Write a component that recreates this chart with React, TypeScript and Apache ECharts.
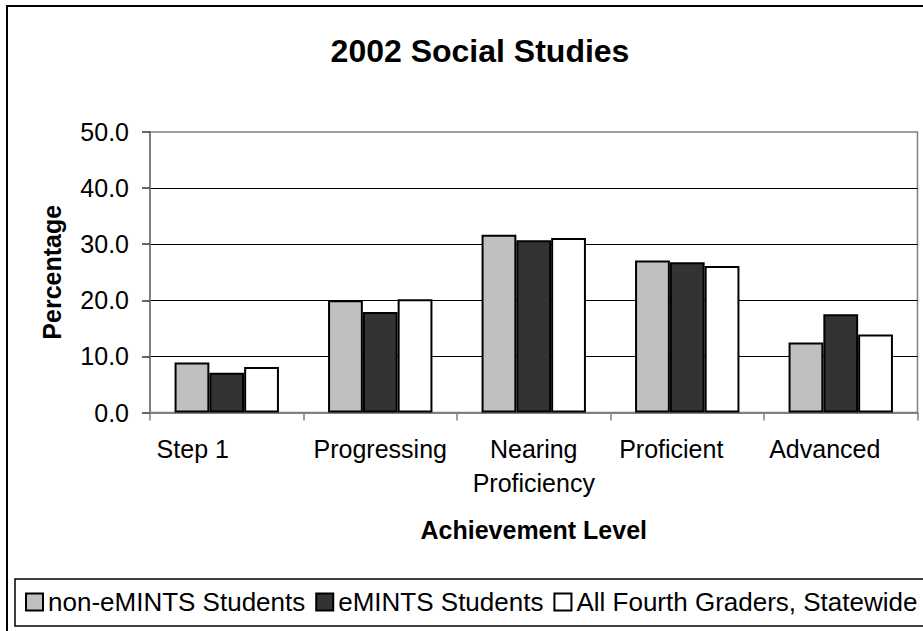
import React, { useEffect, useRef } from "react";
import * as echarts from "echarts";

const categories = ["Step 1", "Progressing", "Nearing\nProficiency", "Proficient", "Advanced"];
const nonEmints = [8.9, 20.0, 31.7, 27.1, 12.5];
const emints = [7.1, 17.9, 30.7, 26.8, 17.5];
const statewide = [8.1, 20.2, 31.1, 26.1, 13.9];
const seriesNames = ["non-eMINTS Students", "eMINTS Students", "All Fourth Graders, Statewide"];
const seriesColors = ["#C0C0C0", "#333333", "#FFFFFF"];
// right padding (px) that shifts some category labels left, as in the original
const labelShift = [68, 0, 0, 32, 32];

const FONT = "'Liberation Sans', Arial, sans-serif";

export default function App() {
  const ref = useRef<HTMLDivElement>(null);
  useEffect(() => {
    if (!ref.current) return;
    const chart = echarts.init(ref.current, null, { renderer: "svg" });
    const values = [nonEmints, emints, statewide];
    chart.setOption({
      animation: false,
      backgroundColor: "#FFFFFF",
      textStyle: { fontFamily: FONT, color: "#000" },
      title: {
        text: "2002 Social Studies",
        left: 475,
        top: 30,
        textAlign: "center",
        textStyle: { fontFamily: FONT, fontSize: 32, fontWeight: "bold", color: "#000" },
      },
      graphic: [
        {
          type: "rect",
          z: -1,
          shape: { x: 7, y: 6, width: 940, height: 640 },
          style: { fill: "none", stroke: "#000", lineWidth: 2 },
        },
        {
          type: "rect",
          z: -1,
          shape: { x: 15, y: 579, width: 930, height: 47 },
          style: { fill: "none", stroke: "#000", lineWidth: 1.5 },
        },
      ],
      legend: {
        data: seriesNames,
        left: 25,
        top: 589,
        padding: 0,
        icon: "rect",
        itemWidth: 17,
        itemHeight: 17,
        itemGap: 10,
        textStyle: { fontFamily: FONT, fontSize: 26, color: "#000" },
      },
      grid: {
        left: 150,
        top: 132,
        width: 767.5,
        height: 280.5,
        show: true,
        borderColor: "#808080",
        borderWidth: 1.5,
        backgroundColor: "transparent",
      },
      xAxis: {
        type: "category",
        data: categories.map((c, i) => ({
          value: c,
          textStyle: { padding: [0, labelShift[i], 0, 0] },
        })),
        name: "Achievement Level",
        nameLocation: "middle",
        nameGap: 117.5,
        nameTextStyle: { fontFamily: FONT, fontSize: 25, fontWeight: "bold", color: "#000", verticalAlign: "middle" },
        axisLine: { lineStyle: { color: "#808080", width: 2 } },
        axisTick: { show: true, length: 8, lineStyle: { color: "#808080", width: 1.5 } },
        axisLabel: { fontFamily: FONT, fontSize: 25, color: "#000", margin: 19, lineHeight: 34, interval: 0 },
        splitLine: { show: false },
      },
      yAxis: {
        type: "value",
        min: 0,
        max: 50,
        interval: 10,
        name: "Percentage",
        nameLocation: "middle",
        nameGap: 98,
        nameTextStyle: { fontFamily: FONT, fontSize: 25, fontWeight: "bold", color: "#000", verticalAlign: "middle" },
        axisLine: { show: true, lineStyle: { color: "#808080", width: 2 } },
        axisTick: { show: true, length: 8, lineStyle: { color: "#333", width: 1.5 } },
        axisLabel: {
          fontFamily: FONT,
          fontSize: 25,
          color: "#000",
          margin: 21,
          formatter: (v: number) => v.toFixed(1),
        },
        splitLine: { show: true, showMinLine: false, showMaxLine: false, lineStyle: { color: "#000", width: 1.2 } },
      },
      series: seriesNames.map((name, i) => ({
        name,
        type: "bar",
        data: values[i],
        barGap: "0%",
        barCategoryGap: "32%",
        itemStyle: { color: seriesColors[i], borderColor: "#000", borderWidth: 2 },
      })),
    });
    return () => chart.dispose();
  }, []);
  return (
    <div
      ref={ref}
      style={{ position: "fixed", left: 0, top: 0, width: 923, height: 631, background: "#fff" }}
    />
  );
}
